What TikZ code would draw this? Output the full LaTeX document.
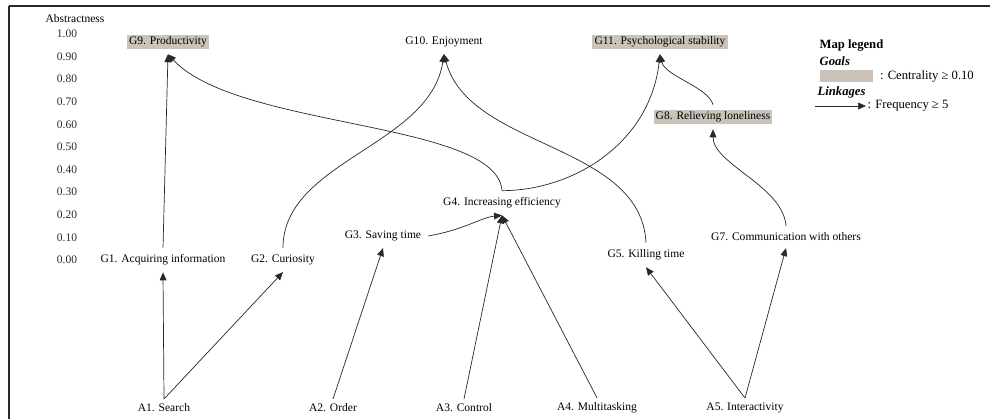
\documentclass[tikz,border=0pt]{standalone}
\usepackage{fontspec}
\setmainfont{Liberation Serif}
\usetikzlibrary{arrows.meta,positioning}
\definecolor{hubgray}{RGB}{203,195,186}
\definecolor{inkgray}{RGB}{40,40,40}
\newcommand{\mapfont}{\fontsize{8.2}{9.5}\selectfont}
\newcommand{\keyfont}{\fontsize{9}{11}\selectfont}

\begin{document}
\begin{tikzpicture}[
    x=0.25mm, y=-0.25mm,
    goal/.style={inner sep=1.5pt, outer sep=3.5pt, font=\mapfont},
    hub/.style={goal, fill=hubgray},
    attr/.style={inner sep=1.5pt, outer sep=2pt, font=\mapfont},
    tick/.style={inner sep=1pt, font=\mapfont, text=inkgray},
    link/.style={-{Triangle[length=2mm, width=1.7mm]}, draw=inkgray, line width=0.5pt},
    legtext/.style={inner sep=1pt, font=\keyfont},
]
\useasboundingbox (0,0) rectangle (990,419);

% Frame
\draw[inkgray, line width=1.4pt] (9,419) -- (9,6);
\draw[inkgray, line width=2pt] (9,6) -- (990,6);

% Abstractness scale
\node[tick, text=black] (scaletitle) at (75,19) {Abstractness};
\foreach \val [count=\i from 0] in {1.00,0.90,0.80,0.70,0.60,0.50,0.40,0.30,0.20,0.10,0.00}
    \node[tick] (tick\i) at (67,{34+22.6*\i}) {\val};

% Goals
\node[hub] (g9) at (168,42) {G9. Productivity};
\node[goal] (g10) at (444,42) {G10. Enjoyment};
\node[hub] (g11) at (660,42) {G11. Psychological stability};
\node[hub] (g8) at (713,117) {G8. Relieving loneliness};
\node[goal] (g4) at (502,203) {G4. Increasing efficiency};
\node[goal] (g3) at (383,236) {G3. Saving time};
\node[goal] (g7) at (786,237) {G7. Communication with others};
\node[goal] (g5) at (646,255) {G5. Killing time};
\node[goal] (g1) at (163,260) {G1. Acquiring information};
\node[goal] (g2) at (283,260) {G2. Curiosity};

% Attributes
\node[attr] (a1) at (164,408) {A1. Search};
\node[attr] (a2) at (333,408) {A2. Order};
\node[attr] (a3) at (464,408) {A3. Control};
\node[attr] (a4) at (597,408) {A4. Multitasking};
\node[attr] (a5) at (745,408) {A5. Interactivity};

% Map legend
\node[legtext, font=\keyfont\bfseries, anchor=west] (maptitle) at (818,46) {Map legend};
\node[legtext, font=\keyfont\bfseries\itshape, anchor=west] (goalshead) at (818,61) {Goals};
\node[fill=hubgray, minimum width=13.25mm, minimum height=3.2mm, inner sep=0pt, anchor=west] (keybox) at (820,76) {};
\node[legtext, right=1.2mm of keybox] (keygoal) {: Centrality ≥ 0.10};
\node[legtext, font=\keyfont\bfseries\itshape, anchor=west] (linkhead) at (816,92) {Linkages};
\coordinate (keystart) at (815,106);
\node[legtext, anchor=west] (keylink) at (866,106) {: Frequency ≥ 5};

% Linkages
\draw[link] (a1.north) -- (g1.south);
\draw[link] (a1.north) -- (g2.south);
\draw[link] (a2.north) -- (g3.south);
\draw[link] (a3.north) -- (g4.south);
\draw[link] (a4.north) -- (g4.south);
\draw[link] (a5.north) -- (g5.south);
\draw[link] (a5.north) -- (g7.south);
\draw[link] (g3.east) .. controls +(35,-6) and +(-20,2) .. (g4.south);
\draw[link] (g1.north) -- (g9.south);
\draw[link] (g2.north) .. controls +(0,-87) and +(-14,92) .. (g10.south);
\draw[link] (g5.north) .. controls +(-5,-100) and +(25,95) .. (g10.south);
\draw[link] (g4.north) .. controls +(-5,-70) and +(70,75) .. (g9.south);
\draw[link] (g4.north) .. controls +(70,0) and +(-10,90) .. (g11.south);
\draw[link] (g8.north) .. controls +(-5,-18) and +(5,22) .. (g11.south);
\draw[link] (g7.north) .. controls +(-3,-40) and +(0,35) .. (g8.south);
\draw[link] (keystart) -- (keylink.west);
\end{tikzpicture}
\end{document}
